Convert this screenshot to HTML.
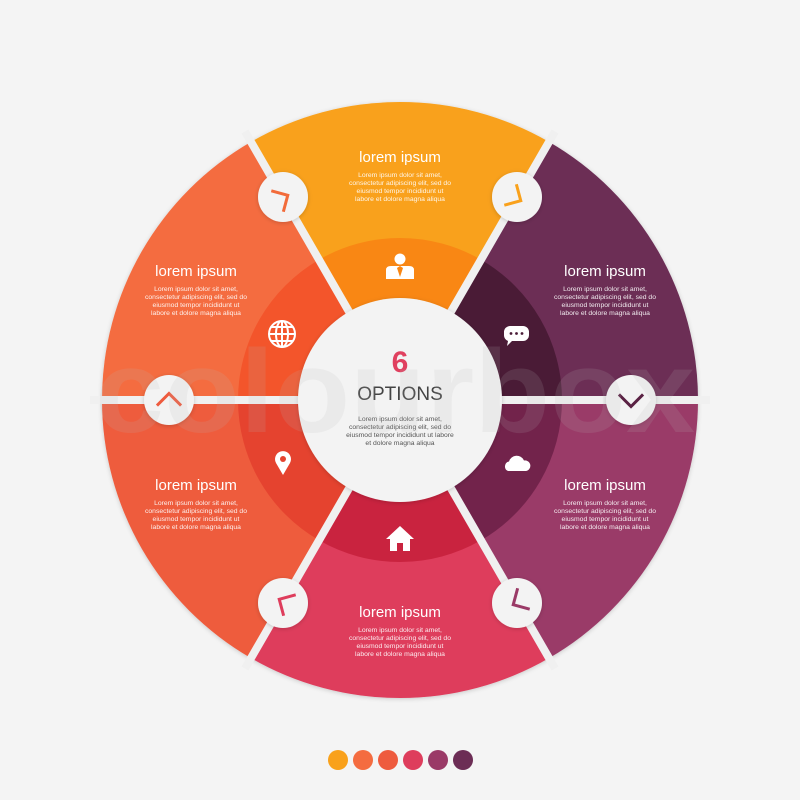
<!DOCTYPE html>
<html><head><meta charset="utf-8"><style>
html,body{margin:0;padding:0;background:#F4F4F4;}
svg{display:block;font-family:"Liberation Sans",sans-serif;}
.t{font-size:15px;fill:#fff;text-anchor:middle;}
.b{font-size:6.8px;fill:#fff;text-anchor:middle;opacity:.9}
</style></head><body>
<svg width="800" height="800" viewBox="0 0 800 800">
<defs><filter id="sh" x="-20%" y="-20%" width="140%" height="140%"><feDropShadow dx="0" dy="1" stdDeviation="2" flood-opacity="0.18"/></filter></defs>
<rect width="800" height="800" fill="#F4F4F4"/>
<g filter="url(#sh)">
<path d="M400 400 L549 141.9 A298 298 0 0 0 251 141.9Z" fill="#F9A11B"/>
<path d="M400 400 L251 141.9 A298 298 0 0 0 102 400Z" fill="#F46C40"/>
<path d="M400 400 L102 400 A298 298 0 0 0 251 658.1Z" fill="#EE5B3E"/>
<path d="M400 400 L251 658.1 A298 298 0 0 0 549 658.1Z" fill="#DE3D5C"/>
<path d="M400 400 L549 658.1 A298 298 0 0 0 698 400Z" fill="#9A3A67"/>
<path d="M400 400 L698 400 A298 298 0 0 0 549 141.9Z" fill="#6C2D55"/>
</g>
<path d="M400 400 L481 259.7 A162 162 0 0 0 319 259.7Z" fill="#F98714"/>
<path d="M400 400 L319 259.7 A162 162 0 0 0 238 400Z" fill="#F3552B"/>
<path d="M400 400 L238 400 A162 162 0 0 0 319 540.3Z" fill="#E5432F"/>
<path d="M400 400 L319 540.3 A162 162 0 0 0 481 540.3Z" fill="#C9233F"/>
<path d="M400 400 L481 540.3 A162 162 0 0 0 562 400Z" fill="#72234B"/>
<path d="M400 400 L562 400 A162 162 0 0 0 481 259.7Z" fill="#4A1B36"/>
<g stroke="#F0F0F0" stroke-width="8">
<line x1="400" y1="400" x2="710" y2="400"/><line x1="400" y1="400" x2="90" y2="400"/>
<line x1="400" y1="400" x2="555" y2="131.5"/><line x1="400" y1="400" x2="245" y2="131.5"/>
<line x1="400" y1="400" x2="555" y2="668.5"/><line x1="400" y1="400" x2="245" y2="668.5"/>
</g>
<circle cx="400" cy="400" r="102" fill="#F3F3F3" filter="url(#sh)"/>
<g fill="#F3F3F3" filter="url(#sh)">
<circle cx="283" cy="197" r="25"/><circle cx="517" cy="197" r="25"/>
<circle cx="169" cy="400" r="25"/><circle cx="631" cy="400" r="25"/>
<circle cx="283" cy="603" r="25"/><circle cx="517" cy="603" r="25"/>
</g>
<g fill="none" stroke-width="3" stroke-linecap="square">
<path d="M-11 -5.5 L0 5.5 L11 -5.5" transform="translate(283,198) rotate(240)" stroke="#F26B3A"/>
<path d="M-11 -5.5 L0 5.5 L11 -5.5" transform="translate(516,198) rotate(-60)" stroke="#F9A11B"/>
<path d="M-11 -5.5 L0 5.5 L11 -5.5" transform="translate(631,401)" stroke="#5A2244"/>
<path d="M-11 -5.5 L0 5.5 L11 -5.5" transform="translate(518,602) rotate(60)" stroke="#9A3A67"/>
<path d="M-11 -5.5 L0 5.5 L11 -5.5" transform="translate(284,602) rotate(120)" stroke="#DE3D5C"/>
<path d="M-11 -5.5 L0 5.5 L11 -5.5" transform="translate(169,399) rotate(180)" stroke="#EE5B3E"/>
</g>
<text x="400" y="372" font-size="30" font-weight="bold" fill="#E0405F" text-anchor="middle">6</text>
<text x="400" y="400" font-size="19" fill="#444" text-anchor="middle">OPTIONS</text>
<g font-size="6.8" fill="#555" text-anchor="middle">
<text x="400" y="421">Lorem ipsum dolor sit amet,</text>
<text x="400" y="429">consectetur adipiscing elit, sed do</text>
<text x="400" y="437">eiusmod tempor incididunt ut labore</text>
<text x="400" y="445">et dolore magna aliqua</text>
</g>
<g>
<text class="t" x="400" y="162">lorem ipsum</text>
<text class="b" x="400" y="177">Lorem ipsum dolor sit amet,</text><text class="b" x="400" y="185">consectetur adipiscing elit, sed do</text><text class="b" x="400" y="193">eiusmod tempor incididunt ut</text><text class="b" x="400" y="201">labore et dolore magna aliqua</text>
<text class="t" x="196" y="276">lorem ipsum</text>
<text class="b" x="196" y="291">Lorem ipsum dolor sit amet,</text><text class="b" x="196" y="299">consectetur adipiscing elit, sed do</text><text class="b" x="196" y="307">eiusmod tempor incididunt ut</text><text class="b" x="196" y="315">labore et dolore magna aliqua</text>
<text class="t" x="605" y="276">lorem ipsum</text>
<text class="b" x="605" y="291">Lorem ipsum dolor sit amet,</text><text class="b" x="605" y="299">consectetur adipiscing elit, sed do</text><text class="b" x="605" y="307">eiusmod tempor incididunt ut</text><text class="b" x="605" y="315">labore et dolore magna aliqua</text>
<text class="t" x="196" y="490">lorem ipsum</text>
<text class="b" x="196" y="505">Lorem ipsum dolor sit amet,</text><text class="b" x="196" y="513">consectetur adipiscing elit, sed do</text><text class="b" x="196" y="521">eiusmod tempor incididunt ut</text><text class="b" x="196" y="529">labore et dolore magna aliqua</text>
<text class="t" x="605" y="490">lorem ipsum</text>
<text class="b" x="605" y="505">Lorem ipsum dolor sit amet,</text><text class="b" x="605" y="513">consectetur adipiscing elit, sed do</text><text class="b" x="605" y="521">eiusmod tempor incididunt ut</text><text class="b" x="605" y="529">labore et dolore magna aliqua</text>
<text class="t" x="400" y="617">lorem ipsum</text>
<text class="b" x="400" y="632">Lorem ipsum dolor sit amet,</text><text class="b" x="400" y="640">consectetur adipiscing elit, sed do</text><text class="b" x="400" y="648">eiusmod tempor incididunt ut</text><text class="b" x="400" y="656">labore et dolore magna aliqua</text>
</g>
<g fill="#fff">
<circle cx="400" cy="259" r="5.5"/><path d="M386 279 L386 270 Q386 266 391 266 L409 266 Q414 266 414 270 L414 279Z"/>
<path d="M400 266 L397 268 L400 277 L403 268Z" fill="#F98714"/>
<path d="M510 326 h13 a6 6 0 0 1 6 6 v3 a6 6 0 0 1 -6 6 h-11 l-5 5 l1 -5 a6 6 0 0 1 -4 -6 v-3 a6 6 0 0 1 6 -6Z"/>
<circle cx="511" cy="333.5" r="1.4" fill="#4A1B36"/><circle cx="516.5" cy="333.5" r="1.4" fill="#4A1B36"/><circle cx="522" cy="333.5" r="1.4" fill="#4A1B36"/>
<path d="M508 471 a5 5 0 0 1 1 -9.5 a8 8 0 0 1 15 -1 a5 5 0 0 1 2 10.5Z"/>
<path d="M283 475 L276 463 a8 8 0 1 1 14 0Z"/><circle cx="283" cy="459" r="3" fill="#E5432F"/>
<path d="M386 539 L400 526 L414 539 L410 539 L410 551 L403 551 L403 543 L397 543 L397 551 L390 551 L390 539Z"/>
</g>
<g fill="none" stroke="#fff" stroke-width="2">
<circle cx="282" cy="334" r="13"/><ellipse cx="282" cy="334" rx="6" ry="13"/>
<line x1="269" y1="334" x2="295" y2="334"/><line x1="282" y1="321" x2="282" y2="347"/>
<line x1="271" y1="327" x2="293" y2="327"/><line x1="271" y1="341" x2="293" y2="341"/>
</g>
<text x="95" y="432" font-size="118" font-weight="bold" fill="#bbb" opacity="0.14" textLength="600" lengthAdjust="spacingAndGlyphs">colourbox</text>
<circle cx="338" cy="760" r="10" fill="#F9A11B"/>
<circle cx="363" cy="760" r="10" fill="#F46C40"/>
<circle cx="388" cy="760" r="10" fill="#EE5B3E"/>
<circle cx="413" cy="760" r="10" fill="#DE3D5C"/>
<circle cx="438" cy="760" r="10" fill="#9A3A67"/>
<circle cx="463" cy="760" r="10" fill="#6C2D55"/>
</svg>
</body></html>
